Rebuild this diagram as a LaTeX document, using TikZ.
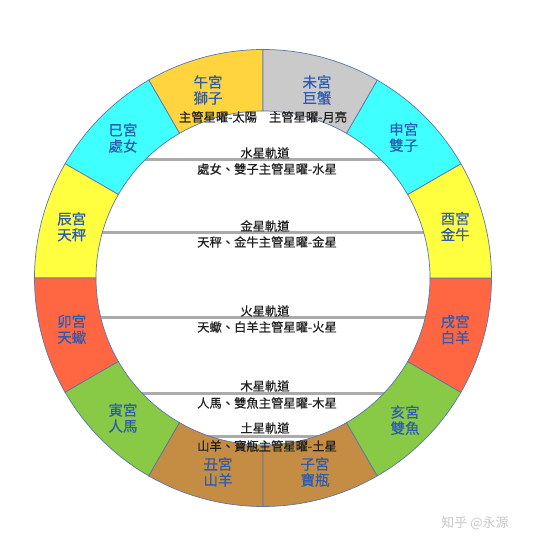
\documentclass[tikz,border=0pt]{standalone}
\usepackage{fontspec}
\setmainfont{Noto Sans CJK TC}
\newfontfamily\heavycjk[FakeBold=0.45]{Noto Sans CJK TC}

\definecolor{gold}{HTML}{FFD43F}
\definecolor{skycyan}{HTML}{40FFFF}
\definecolor{lemon}{HTML}{FFFF40}
\definecolor{tomato}{HTML}{FF6641}
\definecolor{grass}{HTML}{88C946}
\definecolor{ochre}{HTML}{C48D43}
\definecolor{silver}{HTML}{CACACA}
\definecolor{rim}{HTML}{5B76A8}
\definecolor{signblue}{HTML}{2D5BB2}
\definecolor{orbitgray}{HTML}{ABABAB}

\tikzset{
  seg/.style={draw=rim, line width=0.7pt},
  sign/.style={text=signblue, font=\heavycjk\fontsize{14.5}{16}\selectfont, align=center, inner sep=0pt},
  orbit/.style={draw=orbitgray, line width=3pt},
  note/.style={text=black!88, font=\heavycjk\fontsize{12.3}{14}\selectfont, inner sep=0pt},
}

\begin{document}
\begin{tikzpicture}[x=1pt,y=1pt]
  \useasboundingbox (-263,-267) rectangle (269,278);

  % orbits
  \begin{scope}
    \clip (0,0) circle (167pt);
    \draw[orbit] (-170,118) -- (170,118);
    \draw[orbit] (-170,45) -- (170,45);
    \draw[orbit] (-170,-40) -- (170,-40);
    \draw[orbit] (-170,-116) -- (170,-116);
    \draw[orbit] (-170,-158) -- (170,-158);
  \end{scope}

  % ring
  \filldraw[seg, fill=gold] (90:167pt) -- (90:228.5pt) arc[start angle=90, delta angle=30, radius=228.5pt] -- (120:167pt) arc[start angle=120, delta angle=-30, radius=167pt] -- cycle;
  \filldraw[seg, fill=skycyan] (120:167pt) -- (120:228.5pt) arc[start angle=120, delta angle=30, radius=228.5pt] -- (150:167pt) arc[start angle=150, delta angle=-30, radius=167pt] -- cycle;
  \filldraw[seg, fill=lemon] (150:167pt) -- (150:228.5pt) arc[start angle=150, delta angle=30, radius=228.5pt] -- (180:167pt) arc[start angle=180, delta angle=-30, radius=167pt] -- cycle;
  \filldraw[seg, fill=tomato] (180:167pt) -- (180:228.5pt) arc[start angle=180, delta angle=30, radius=228.5pt] -- (210:167pt) arc[start angle=210, delta angle=-30, radius=167pt] -- cycle;
  \filldraw[seg, fill=grass] (210:167pt) -- (210:228.5pt) arc[start angle=210, delta angle=30, radius=228.5pt] -- (240:167pt) arc[start angle=240, delta angle=-30, radius=167pt] -- cycle;
  \filldraw[seg, fill=ochre] (240:167pt) -- (240:228.5pt) arc[start angle=240, delta angle=30, radius=228.5pt] -- (270:167pt) arc[start angle=270, delta angle=-30, radius=167pt] -- cycle;
  \filldraw[seg, fill=ochre] (270:167pt) -- (270:228.5pt) arc[start angle=270, delta angle=30, radius=228.5pt] -- (300:167pt) arc[start angle=300, delta angle=-30, radius=167pt] -- cycle;
  \filldraw[seg, fill=grass] (300:167pt) -- (300:228.5pt) arc[start angle=300, delta angle=30, radius=228.5pt] -- (330:167pt) arc[start angle=330, delta angle=-30, radius=167pt] -- cycle;
  \filldraw[seg, fill=tomato] (330:167pt) -- (330:228.5pt) arc[start angle=330, delta angle=30, radius=228.5pt] -- (360:167pt) arc[start angle=360, delta angle=-30, radius=167pt] -- cycle;
  \filldraw[seg, fill=lemon] (0:167pt) -- (0:228.5pt) arc[start angle=0, delta angle=30, radius=228.5pt] -- (30:167pt) arc[start angle=30, delta angle=-30, radius=167pt] -- cycle;
  \filldraw[seg, fill=skycyan] (30:167pt) -- (30:228.5pt) arc[start angle=30, delta angle=30, radius=228.5pt] -- (60:167pt) arc[start angle=60, delta angle=-30, radius=167pt] -- cycle;
  \filldraw[seg, fill=silver] (60:167pt) -- (60:228.5pt) arc[start angle=60, delta angle=30, radius=228.5pt] -- (90:167pt) arc[start angle=90, delta angle=-30, radius=167pt] -- cycle;

  % signs
  \node[sign] (wu) at (-55,188) {午宮\\獅子};
  \node[sign] (wei) at (54,188) {未宮\\巨蟹};
  \node[sign] (shen) at (45:199pt) {申宮\\雙子};
  \node[sign] (you) at (15:199pt) {酉宮\\金牛};
  \node[sign] (xu) at (-15:199pt) {戌宮\\白羊};
  \node[sign] (hai) at (-45:201pt) {亥宮\\雙魚};
  \node[sign] (zi) at (52,-194) {子宮\\寶瓶};
  \node[sign] (chou) at (-45,-194) {丑宮\\山羊};
  \node[sign] (yin) at (225:198pt) {寅宮\\人馬};
  \node[sign] (mao) at (195:198pt) {卯宮\\天蠍};
  \node[sign] (chen) at (165:198pt) {辰宮\\天秤};
  \node[sign] (si) at (135:198pt) {巳宮\\處女};

  % rulers
  \node[note] (sun) at (-45,161) {主管星曜-太陽};
  \node[note] (moon) at (45,161) {主管星曜-月亮};
  \node[note] (mer) at (2,125) {水星軌道};
  \node[note] (merr) at (4,109) {處女、雙子主管星曜-水星};
  \node[note] (ven) at (2,52) {金星軌道};
  \node[note] (venr) at (4,36) {天秤、金牛主管星曜-金星};
  \node[note] (mar) at (2,-33) {火星軌道};
  \node[note] (marr) at (4,-49) {天蠍、白羊主管星曜-火星};
  \node[note] (jup) at (2,-108) {木星軌道};
  \node[note] (jupr) at (4,-125) {人馬、雙魚主管星曜-木星};
  \node[note] (sat) at (2,-150) {土星軌道};
  \node[note] (satr) at (4,-168) {山羊、寶瓶主管星曜-土星};

  \node[text=black!22, font=\fontsize{13}{15}\selectfont, inner sep=0pt] (mark) at (212,-245) {知乎 @永源};
\end{tikzpicture}
\end{document}
